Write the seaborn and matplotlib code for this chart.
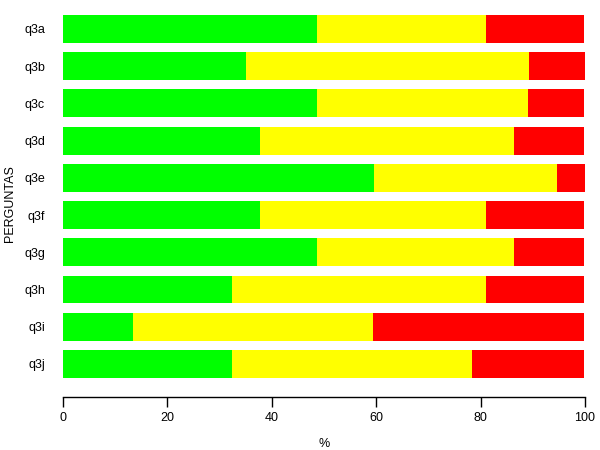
import matplotlib
matplotlib.use("Agg")
import matplotlib.pyplot as plt
import seaborn as sns
import pandas as pd
import numpy as np

questions = ["q3a", "q3b", "q3c", "q3d", "q3e", "q3f", "q3g", "q3h", "q3i", "q3j"]
green = [48.6, 35.1, 48.6, 37.8, 59.5, 37.8, 48.6, 32.4, 13.5, 32.4]
yellow = [32.4, 54.1, 40.5, 48.6, 35.1, 43.2, 37.8, 48.6, 45.9, 45.9]
red = [18.9, 10.8, 10.8, 13.5, 5.4, 18.9, 13.5, 18.9, 40.5, 21.6]

sns.set_style("white")
plt.rcParams['font.family'] = ['Liberation Sans', 'DejaVu Sans']
plt.rcParams['text.color'] = 'black'
plt.rcParams['axes.labelcolor'] = 'black'
plt.rcParams['xtick.color'] = 'black'
plt.rcParams['ytick.color'] = 'black'

df = pd.DataFrame({"q": questions, "g": green, "y": yellow, "r": red})
df["gy"] = df["g"] + df["y"]
df["gyr"] = df["gy"] + df["r"]

fig = plt.figure(figsize=(6, 4.5), dpi=100)
ax = fig.add_axes([63/600, 1 - 397/450, (585 - 63)/600, (397 - 10)/450])

sns.barplot(data=df, x="gyr", y="q", color="#FF0000", orient="h", width=0.75,
            saturation=1, ax=ax, order=questions, linewidth=0)
sns.barplot(data=df, x="gy", y="q", color="#FFFF00", orient="h", width=0.75,
            saturation=1, ax=ax, order=questions, linewidth=0)
sns.barplot(data=df, x="g", y="q", color="#00FF00", orient="h", width=0.75,
            saturation=1, ax=ax, order=questions, linewidth=0)

ax.set_xlim(0, 100)
ax.set_ylim(9.887, -0.51)
ax.set_xticks([0, 20, 40, 60, 80, 100])
ax.tick_params(axis="x", length=7, width=1, colors="black", labelsize=9, pad=4, bottom=True)
ax.tick_params(axis="y", length=0, labelsize=9, pad=13, colors="black")
for s in ["top", "right", "left"]:
    ax.spines[s].set_visible(False)
ax.spines["bottom"].set_color("black")
ax.spines["bottom"].set_linewidth(1)
ax.set_xlabel("%", fontsize=9, labelpad=10)
ax.set_ylabel("PERGUNTAS", fontsize=9)
ax.yaxis.set_label_coords(-0.09, 0.5)

fig.savefig("out.png", dpi=100)
